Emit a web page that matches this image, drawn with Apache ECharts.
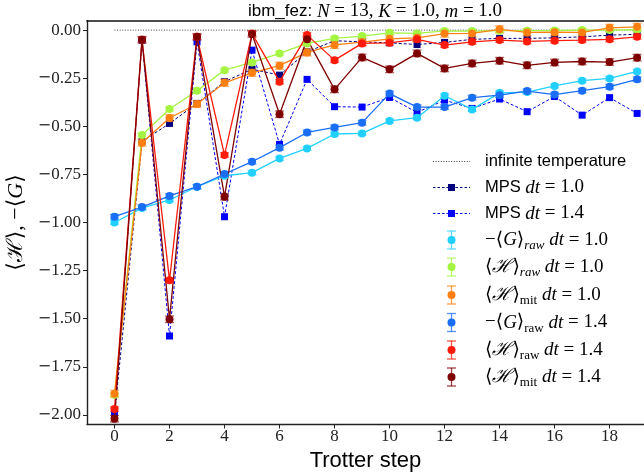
<!DOCTYPE html>
<html>
<head>
<meta charset="utf-8">
<script src="https://cdn.jsdelivr.net/npm/echarts@6/dist/echarts.min.js"></script>
<style>
  html, body { margin: 0; padding: 0; background: #fff; }
  #chart { width: 644px; height: 474px; }
</style>
</head>
<body>
<div id="chart"></div>
<script>
  // trotter steps and tick positions
  const steps = [0, 1, 2, 3, 4, 5, 6, 7, 8, 9, 10, 11, 12, 13, 14, 15, 16, 17, 18, 19];
  const xTicks = [0, 2, 4, 6, 8, 10, 12, 14, 16, 18];
  const yTicks = [-2.0, -1.75, -1.5, -1.25, -1.0, -0.75, -0.5, -0.25, 0.0];
  const infTemp = 0.0;

  // MPS reference curves
  const mps10 = [-2.00, -0.58, -0.485, -0.381, -0.268, -0.203, -0.234, -0.113, -0.055, -0.061, -0.066, -0.075, -0.064, -0.048, -0.043, -0.043, -0.040, -0.035, -0.026, -0.022];
  const mps14 = [-2.00, -0.052, -1.59, -0.061, -0.97, -0.104, -0.594, -0.256, -0.398, -0.400, -0.350, -0.428, -0.364, -0.407, -0.358, -0.424, -0.345, -0.442, -0.351, -0.433];

  // hardware data, dt = 1.0
  const gRaw10 = [-1.00, -0.925, -0.883, -0.814, -0.757, -0.741, -0.667, -0.615, -0.540, -0.537, -0.472, -0.455, -0.341, -0.412, -0.326, -0.322, -0.290, -0.263, -0.251, -0.215];
  const hRaw10 = [-1.895, -0.545, -0.410, -0.315, -0.208, -0.168, -0.121, -0.069, -0.043, -0.031, -0.014, -0.017, -0.004, -0.005, -0.003, -0.003, -0.002, 0.000, 0.000, 0.002];
  const hMit10 = [-1.89, -0.585, -0.457, -0.384, -0.274, -0.222, -0.185, -0.116, -0.077, -0.062, -0.045, -0.040, -0.018, -0.017, 0.004, -0.012, -0.011, -0.012, 0.012, 0.017];

  // hardware data, dt = 1.4
  const gRaw14 = [-0.97, -0.920, -0.862, -0.814, -0.748, -0.684, -0.611, -0.532, -0.506, -0.481, -0.330, -0.400, -0.400, -0.351, -0.338, -0.317, -0.335, -0.315, -0.294, -0.256];
  const hRaw14 = [-1.97, -0.050, -1.30, -0.035, -0.649, -0.018, -0.268, -0.026, -0.156, -0.069, -0.066, -0.048, -0.078, -0.061, -0.052, -0.059, -0.055, -0.052, -0.048, -0.035];
  const hMit14 = [-2.02, -0.050, -1.503, -0.035, -0.866, -0.020, -0.437, -0.047, -0.308, -0.142, -0.204, -0.121, -0.199, -0.173, -0.159, -0.183, -0.168, -0.163, -0.166, -0.143];

  // error bar half widths
  const errG10 = 0.010, errH10 = 0.010, errM10 = 0.018;
  const errG14 = 0.012, errH14 = 0.012, errM14 = 0.017;

  const C = {
    navy: '#00007f', mpsBlue: '#0000ff',
    cyan: '#22d0ff', green: '#a4f542', orange: '#ff8010',
    blue: '#1a6ef5', red: '#ff1a0a', maroon: '#7f0000'
  };

  const serif = '"Liberation Serif", "DejaVu Serif", serif';
  const sans = '"Liberation Sans", "DejaVu Sans", sans-serif';

  function pairs(vals) {
    return steps.map((s, i) => [s, vals[i]]);
  }

  function mpsSeries(name, vals, color) {
    return {
      name: name, type: 'line', data: pairs(vals),
      symbol: 'rect', symbolSize: 7, showAllSymbol: true,
      lineStyle: { color: color, width: 1, type: [3, 2] },
      itemStyle: { color: color },
      z: 2
    };
  }

  function errSeries(vals, err, color) {
    return {
      type: 'custom',
      data: steps.map((s, i) => [s, vals[i], err]),
      renderItem: function (params, api) {
        const x = api.value(0), y = api.value(1), e = api.value(2);
        const lo = api.coord([x, y - e]);
        const hi = api.coord([x, y + e]);
        const st = { stroke: color, lineWidth: 1.3, opacity: 0.6 };
        return {
          type: 'group',
          children: [
            { type: 'line', shape: { x1: lo[0], y1: lo[1], x2: hi[0], y2: hi[1] }, style: st },
            { type: 'line', shape: { x1: lo[0] - 4.5, y1: lo[1], x2: lo[0] + 4.5, y2: lo[1] }, style: st },
            { type: 'line', shape: { x1: hi[0] - 4.5, y1: hi[1], x2: hi[0] + 4.5, y2: hi[1] }, style: st }
          ]
        };
      },
      z: 3
    };
  }

  function dataSeries(vals, color) {
    return {
      type: 'line', data: pairs(vals),
      symbol: 'circle', symbolSize: 8, showAllSymbol: true,
      lineStyle: { color: color, width: 1.3 },
      itemStyle: { color: color },
      z: 3
    };
  }

  const series = [
    {
      type: 'line', data: steps.map(s => [s, infTemp]), symbol: 'none',
      lineStyle: { color: '#444', width: 1, type: [1, 1.6] }, z: 1
    },
    mpsSeries('MPS 1.0', mps10, C.navy),
    mpsSeries('MPS 1.4', mps14, C.mpsBlue),
    errSeries(gRaw10, errG10, C.cyan), dataSeries(gRaw10, C.cyan),
    errSeries(hRaw10, errH10, C.green), dataSeries(hRaw10, C.green),
    errSeries(hMit10, errM10, C.orange), dataSeries(hMit10, C.orange),
    errSeries(gRaw14, errG14, C.blue), dataSeries(gRaw14, C.blue),
    errSeries(hRaw14, errH14, C.red), dataSeries(hRaw14, C.red),
    errSeries(hMit14, errM14, C.maroon), dataSeries(hMit14, C.maroon)
  ];

  // legend drawn by hand
  const rich = {
    s: { fontFamily: sans, fontSize: 16.5, fill: '#000', lineHeight: 20 },
    m: { fontFamily: serif, fontSize: 19, fill: '#000', lineHeight: 20 },
    i: { fontFamily: serif, fontSize: 19, fontStyle: 'italic', fill: '#000', lineHeight: 20 },
    sub: { fontFamily: serif, fontSize: 13, fill: '#000', lineHeight: 13, padding: [12, 0, 0, 0] },
    subi: { fontFamily: serif, fontSize: 13, fontStyle: 'italic', fill: '#000', lineHeight: 13, padding: [12, 0, 0, 0] }
  };
  const legendRows = [
    { kind: 'dot', color: '#444', text: '{s|infinite temperature}' },
    { kind: 'mps', color: C.navy, text: '{s|MPS }{i|dt}{m| = 1.0}' },
    { kind: 'mps', color: C.mpsBlue, text: '{s|MPS }{i|dt}{m| = 1.4}' },
    { kind: 'err', color: C.cyan, text: '{m|−⟨}{i|G}{m|⟩}{subi|raw}{m| }{i|dt}{m| = 1.0}' },
    { kind: 'err', color: C.green, text: '{m|⟨}{i|ℋ}{m|⟩}{subi|raw}{m| }{i|dt}{m| = 1.0}' },
    { kind: 'err', color: C.orange, text: '{m|⟨}{i|ℋ}{m|⟩}{sub|mit}{m| }{i|dt}{m| = 1.0}' },
    { kind: 'err', color: C.blue, text: '{m|−⟨}{i|G}{m|⟩}{sub|raw}{m| }{i|dt}{m| = 1.4}' },
    { kind: 'err', color: C.red, text: '{m|⟨}{i|ℋ}{m|⟩}{sub|raw}{m| }{i|dt}{m| = 1.4}' },
    { kind: 'err', color: C.maroon, text: '{m|⟨}{i|ℋ}{m|⟩}{sub|mit}{m| }{i|dt}{m| = 1.4}' }
  ];
  const rowY = [161.5, 187.5, 213.5, 240, 267, 295, 322.5, 350, 377];
  const legendEls = [];
  legendRows.forEach((r, k) => {
    const y = rowY[k];
    if (r.kind === 'dot') {
      legendEls.push({ type: 'line', shape: { x1: 433, y1: y, x2: 470, y2: y }, style: { stroke: r.color, lineWidth: 1, lineDash: [1, 1.6] } });
    } else if (r.kind === 'mps') {
      legendEls.push({ type: 'line', shape: { x1: 433, y1: y, x2: 470, y2: y }, style: { stroke: r.color, lineWidth: 1, lineDash: [2.5, 2] } });
      legendEls.push({ type: 'rect', shape: { x: 448, y: y - 3.5, width: 7, height: 7 }, style: { fill: r.color } });
    } else {
      const st = { stroke: r.color, lineWidth: 1.3, opacity: 0.75 };
      legendEls.push({ type: 'line', shape: { x1: 451.5, y1: y - 9, x2: 451.5, y2: y + 9 }, style: st });
      legendEls.push({ type: 'line', shape: { x1: 447, y1: y - 9, x2: 456, y2: y - 9 }, style: st });
      legendEls.push({ type: 'line', shape: { x1: 447, y1: y + 9, x2: 456, y2: y + 9 }, style: st });
      legendEls.push({ type: 'circle', shape: { cx: 451.5, cy: y, r: 4 }, style: { fill: r.color } });
    }
    legendEls.push({
      type: 'text', x: 485, y: y,
      style: { text: r.text, verticalAlign: 'middle', align: 'left', rich: rich }
    });
  });

  const xMin = -1, xMax = 19.25;
  const chart = echarts.init(document.getElementById('chart'), null, { renderer: 'canvas' });
  const option = {
    animation: false,
    backgroundColor: '#fff',
    title: {
      text: '{s|ibm_fez: }{i|N}{m| = 13, }{i|K}{m| = 1.0, }{i|m}{m| = 1.0}',
      left: 370, top: -3, textAlign: 'center',
      textStyle: {
        fontWeight: 'normal',
        rich: {
          s: { fontFamily: sans, fontSize: 17, fontWeight: 'normal', color: '#000' },
          m: { fontFamily: serif, fontSize: 19, fontWeight: 'normal', color: '#000' },
          i: { fontFamily: serif, fontSize: 19, fontWeight: 'normal', fontStyle: 'italic', color: '#000' }
        }
      }
    },
    grid: { left: 87, right: 0, top: 20.5, bottom: 49.5, containLabel: false, outerBoundsMode: 'none' },
    xAxis: [{
      type: 'value', min: xMin, max: xMax,
      name: 'Trotter step', nameLocation: 'middle', nameGap: 20,
      nameTextStyle: { fontFamily: sans, fontSize: 22, color: '#000' },
      axisLine: { show: true, onZero: false, lineStyle: { color: '#222', width: 1.4 } },
      axisTick: { show: true, customValues: xTicks, length: 4, lineStyle: { color: '#222' } },
      axisLabel: {
        customValues: xTicks, margin: 4, color: '#222',
        fontFamily: serif, fontSize: 17
      },
      splitLine: { show: false }
    }, {
      type: 'value', position: 'top', min: xMin, max: xMax,
      axisLine: { show: true, onZero: false, lineStyle: { color: '#111', width: 1.6 } },
      axisTick: { show: false }, axisLabel: { show: false }, splitLine: { show: false }
    }],
    yAxis: {
      type: 'value', min: -2.05, max: 0.05,
      name: '⟨ℋ⟩, −⟨{i|G}⟩', nameLocation: 'middle', nameGap: 52, nameRotate: 90,
      nameTextStyle: {
        fontFamily: serif, fontSize: 22, color: '#000',
        rich: { i: { fontFamily: serif, fontSize: 22, fontStyle: 'italic', color: '#000' } }
      },
      axisLine: { show: true, onZero: false, lineStyle: { color: '#222', width: 1.4 } },
      axisTick: { show: true, customValues: yTicks, length: 4, lineStyle: { color: '#222' } },
      axisLabel: {
        customValues: yTicks, margin: 6, color: '#222',
        fontFamily: serif, fontSize: 17,
        formatter: v => (v < 0 ? '{n|−}' : '') + Math.abs(v).toFixed(2),
        rich: { n: { fontFamily: '"DejaVu Serif", serif', fontSize: 16, color: '#222' } }
      },
      splitLine: { show: false }
    },
    graphic: legendEls,
    series: series
  };
  chart.setOption(option);
</script>
</body>
</html>
